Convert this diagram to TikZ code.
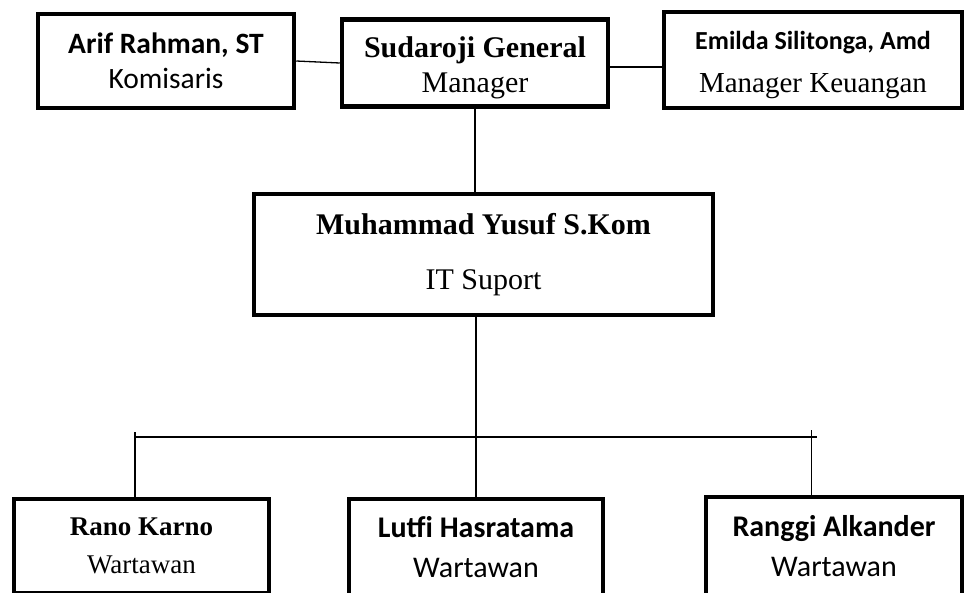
\documentclass[tikz,border=0pt]{standalone}
\usepackage{fontspec}
\setmainfont{Liberation Serif}
\newfontfamily\carlito{Carlito}
\begin{document}
\begin{tikzpicture}[x=1pt,y=-1pt,
  box/.style={draw,line width=4.5pt,align=center,inner sep=0pt},
  link/.style={line width=1.3pt}]
\clip (0,0) rectangle (964,592);
% top row
\node[box,minimum width=256pt,minimum height=94pt,font=\carlito\fontsize{29.5}{35}\selectfont] (arif) at (166,61)
  {\textbf{Arif Rahman, ST}\\Komisaris};
\node[box,minimum width=266pt,minimum height=87pt,font=\fontsize{30}{35}\selectfont] (sudaroji) at (475,63)
  {\rule{0pt}{31pt}\textbf{Sudaroji General}\\Manager};
\node[box,minimum width=298pt,minimum height=96pt,font=\fontsize{29}{43}\selectfont] (emilda) at (813,60)
  {\rule{0pt}{28pt}{\carlito\bfseries\fontsize{26}{31}\selectfont Emilda Silitonga, Amd}\\Manager Keuangan};
% middle
\node[box,minimum width=459pt,minimum height=121pt,font=\fontsize{30}{35}\selectfont] (muhammad) at (483.5,254.5)
  {\textbf{Muhammad Yusuf S.Kom}\\[20pt]IT Suport};
% bottom row
\node[box,minimum width=255pt,minimum height=94pt,font=\fontsize{27}{38}\selectfont] (rano) at (141.5,546)
  {\textbf{Rano Karno}\\Wartawan};
\node[box,minimum width=254pt,minimum height=96pt,font=\carlito\fontsize{30}{40}\selectfont] (lutfi) at (476,547)
  {\textbf{Lutfi Hasratama}\\Wartawan};
\node[box,minimum width=256pt,minimum height=98pt,font=\carlito\fontsize{30}{40}\selectfont] (ranggi) at (834,546)
  {\textbf{Ranggi Alkander}\\Wartawan};
% connectors
\draw[link] (arif.east) -- (sudaroji.west);
\draw[link] ([yshift=-4pt]sudaroji.east) -- ([yshift=-4pt]sudaroji.east -| emilda.west);
\draw[link] (sudaroji.south) -- (sudaroji.south |- muhammad.north);
\draw[link] (lutfi.north) -- (lutfi.north |- muhammad.south);
\coordinate (barL) at (135,437);
\coordinate (barR) at (817,437);
\coordinate (tickR) at (811,430);
\draw[link] (barL) -- (barR);
\draw[link] ([yshift=5pt]barL) -- (barL |- rano.north);
\draw[line width=1pt] (tickR) -- (tickR |- ranggi.north);
\end{tikzpicture}
\end{document}
